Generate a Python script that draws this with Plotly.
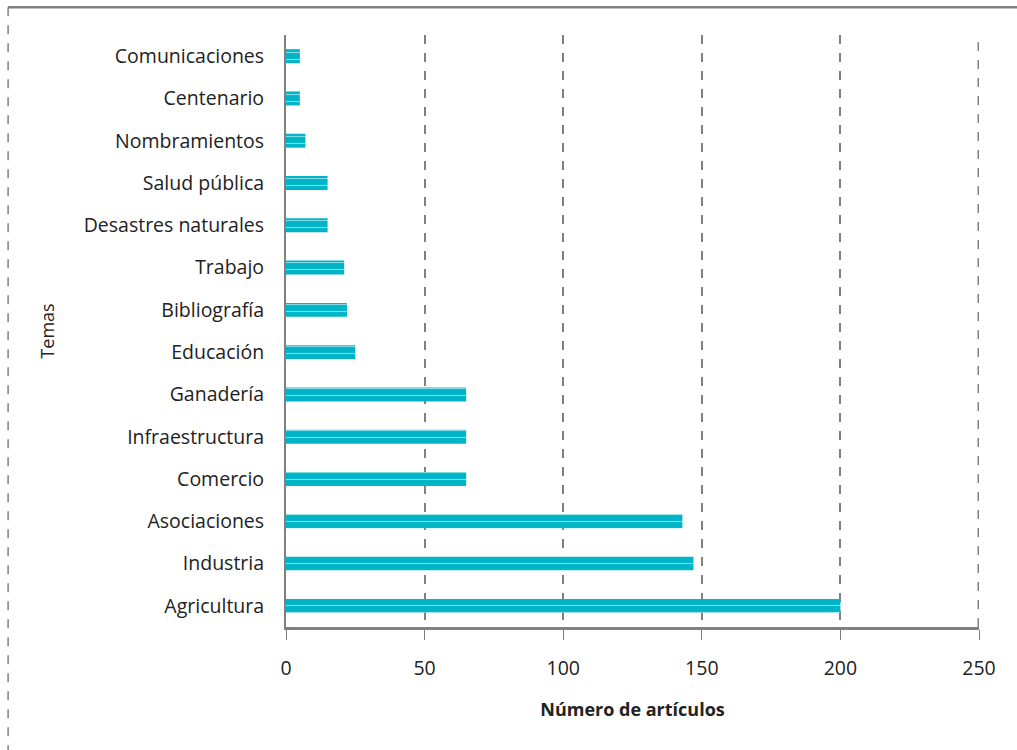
import plotly.graph_objects as go

# Topics and number of articles per topic (top to bottom)
temas = [
    "Comunicaciones", "Centenario", "Nombramientos", "Salud pública",
    "Desastres naturales", "Trabajo", "Bibliografía", "Educación",
    "Ganadería", "Infraestructura", "Comercio", "Asociaciones",
    "Industria", "Agricultura",
]
articulos = [5, 5, 7, 15, 15, 21, 22, 25, 65, 65, 65, 143, 147, 200]

x_ticks = [0, 50, 100, 150, 200, 250]

BAR = "#00B4C8"
GREY = "#808080"
TEXT = "#222222"
FONT = "Open Sans"

fig = go.Figure(
    go.Bar(
        x=articulos,
        y=temas,
        orientation="h",
        width=0.33,
        marker=dict(
            color=BAR,
            line=dict(width=0),
            # thin white streaks running along the bars
            pattern=dict(shape="-", bgcolor=BAR, fgcolor="white",
                         size=7, solidity=0.16),
        ),
        hoverinfo="x+y",
    )
)

fig.update_layout(
    width=1017,
    height=750,
    margin=dict(l=286, r=38, t=35, b=123),
    paper_bgcolor="white",
    plot_bgcolor="white",
    showlegend=False,
    font=dict(family=FONT, size=19.5, color=TEXT),
    xaxis=dict(
        range=[0, 250],
        tickvals=x_ticks,
        ticktext=[str(v) for v in x_ticks],
        showgrid=True,
        gridcolor=GREY,
        gridwidth=1.5,
        griddash="dash",
        showline=True,
        linecolor=GREY,
        linewidth=2.5,
        ticks="outside",
        ticklen=10,
        tickwidth=1,
        tickcolor=GREY,
        ticklabelstandoff=12,
        tickfont=dict(family=FONT, size=19.5, color=TEXT),
        zeroline=False,
        title=dict(
            text="<b>Número de artículos</b>",
            font=dict(family=FONT, size=18, color=TEXT),
            standoff=24,
        ),
    ),
    yaxis=dict(
        type="category",
        categoryorder="array",
        categoryarray=temas,
        autorange="reversed",
        showgrid=False,
        showline=True,
        linecolor=GREY,
        linewidth=2,
        ticks="",
        ticklabelstandoff=16,
        tickfont=dict(family=FONT, size=19.5, color=TEXT),
        zeroline=False,
        title=dict(
            text="Temas",
            font=dict(family=FONT, size=18, color=TEXT),
            standoff=24,
        ),
    ),
    shapes=[
        # gridline at the far end of the value axis (half of it is clipped)
        dict(type="line", xref="x", yref="paper",
             x0=x_ticks[-1], x1=x_ticks[-1], y0=0, y1=1,
             line=dict(color=GREY, width=3, dash="dash"), layer="below"),
        # outer chart frame: solid top edge, dashed left edge
        dict(type="line", xref="paper", yref="paper",
             x0=-0.401, x1=1.06, y0=1.047, y1=1.047,
             line=dict(color=GREY, width=2.5)),
        dict(type="line", xref="paper", yref="paper",
             x0=-0.401, x1=-0.401, y0=1.047, y1=-0.21,
             line=dict(color=GREY, width=1.5, dash="dash")),
    ],
)

fig.write_html("out.html")
